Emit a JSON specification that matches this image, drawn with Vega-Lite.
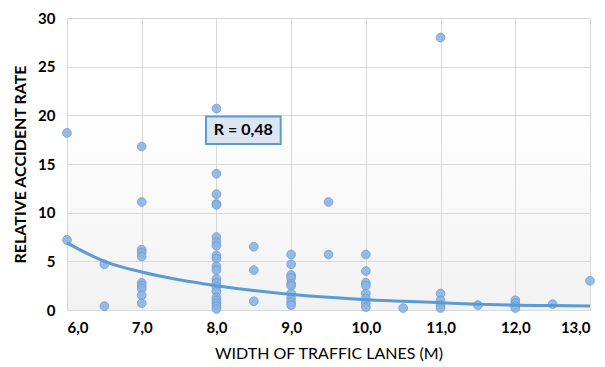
{
  "$schema": "https://vega.github.io/schema/vega-lite/v6.json",
  "width": 523,
  "height": 292,
  "autosize": "none",
  "padding": {"left": 67, "top": 18, "right": 15, "bottom": 57},
  "background": "#ffffff",
  "config": {
    "view": {
      "stroke": "#d9d9d9",
      "strokeWidth": 1,
      "fill": {"gradient": "linear", "x1": 0, "y1": 0, "x2": 0, "y2": 1,
        "stops": [{"offset": 0, "color": "#ffffff"}, {"offset": 0.3, "color": "#ffffff"}, {"offset": 1, "color": "#f2f2f2"}]}
    },
    "axis": {
      "labelFont": "Lato", "labelFontWeight": "bold", "labelFontSize": 15, "labelColor": "#000000",
      "titleFont": "Lato", "titleFontWeight": "normal", "titleFontSize": 16, "titleColor": "#000000",
      "gridColor": "#d9d9d9", "gridWidth": 1, "domain": false, "ticks": false
    }
  },
  "datasets": {
    "points": [
      {"w": 6, "r": 18.2}, {"w": 6, "r": 7.2},
      {"w": 6.5, "r": 4.7}, {"w": 6.5, "r": 0.4},
      {"w": 7, "r": 16.8}, {"w": 7, "r": 11.1}, {"w": 7, "r": 6.2}, {"w": 7, "r": 5.9}, {"w": 7, "r": 5.5}, {"w": 7, "r": 2.8}, {"w": 7, "r": 2.5}, {"w": 7, "r": 2.2}, {"w": 7, "r": 1.5}, {"w": 7, "r": 0.7},
      {"w": 8, "r": 20.7}, {"w": 8, "r": 14.0}, {"w": 8, "r": 11.9}, {"w": 8, "r": 10.9}, {"w": 8, "r": 10.8}, {"w": 8, "r": 7.5}, {"w": 8, "r": 7.0}, {"w": 8, "r": 6.6}, {"w": 8, "r": 5.6}, {"w": 8, "r": 5.3}, {"w": 8, "r": 4.5}, {"w": 8, "r": 4.1}, {"w": 8, "r": 3.2}, {"w": 8, "r": 2.8}, {"w": 8, "r": 2.4}, {"w": 8, "r": 1.9}, {"w": 8, "r": 1.3}, {"w": 8, "r": 1.0}, {"w": 8, "r": 0.7}, {"w": 8, "r": 0.4}, {"w": 8, "r": 0.1},
      {"w": 8.5, "r": 6.5}, {"w": 8.5, "r": 4.1}, {"w": 8.5, "r": 0.9},
      {"w": 9, "r": 5.7}, {"w": 9, "r": 4.7}, {"w": 9, "r": 3.6}, {"w": 9, "r": 3.3}, {"w": 9, "r": 2.7}, {"w": 9, "r": 2.5}, {"w": 9, "r": 1.7}, {"w": 9, "r": 1.2}, {"w": 9, "r": 0.8}, {"w": 9, "r": 0.5},
      {"w": 9.5, "r": 11.1}, {"w": 9.5, "r": 5.7},
      {"w": 10, "r": 5.7}, {"w": 10, "r": 4.0}, {"w": 10, "r": 2.8}, {"w": 10, "r": 2.5}, {"w": 10, "r": 1.7}, {"w": 10, "r": 1.2}, {"w": 10, "r": 0.7}, {"w": 10, "r": 0.3},
      {"w": 10.5, "r": 0.2},
      {"w": 11, "r": 28.0}, {"w": 11, "r": 1.7}, {"w": 11, "r": 1.0}, {"w": 11, "r": 0.5}, {"w": 11, "r": 0.2},
      {"w": 11.5, "r": 0.5},
      {"w": 12, "r": 1.0}, {"w": 12, "r": 0.7}, {"w": 12, "r": 0.4}, {"w": 12, "r": 0.2},
      {"w": 12.5, "r": 0.6},
      {"w": 13, "r": 3.0}
    ],
    "trend": [
      {"w": 6, "r": 6.9}, {"w": 6.5, "r": 5.0}, {"w": 7, "r": 3.9}, {"w": 7.5, "r": 3.1}, {"w": 8, "r": 2.5},
      {"w": 8.5, "r": 2.0}, {"w": 9, "r": 1.6}, {"w": 9.5, "r": 1.3}, {"w": 10, "r": 1.05}, {"w": 10.5, "r": 0.9},
      {"w": 11, "r": 0.75}, {"w": 11.5, "r": 0.6}, {"w": 12, "r": 0.5}, {"w": 12.5, "r": 0.45}, {"w": 13, "r": 0.4}
    ],
    "note": [{"label": "R = 0,48"}]
  },
  "layer": [
    {
      "data": {"name": "points"},
      "mark": {"type": "circle", "size": 75, "color": "#8db4e2", "opacity": 0.9, "stroke": "#6f9fd8", "strokeWidth": 1},
      "encoding": {
        "x": {"field": "w", "type": "quantitative",
          "scale": {"domain": [6, 13], "nice": false, "zero": false},
          "axis": {"values": [6, 7, 8, 9, 10, 11, 12, 13], "labelExpr": "replace(format(datum.value, '.1f'), '.', ',')", "labelPadding": 10, "title": "WIDTH OF TRAFFIC LANES (M)", "titlePadding": 10}},
        "y": {"field": "r", "type": "quantitative",
          "scale": {"domain": [0, 30], "nice": false},
          "axis": {"values": [0, 5, 10, 15, 20, 25, 30], "labelPadding": 12, "title": "RELATIVE ACCIDENT RATE", "titleFontWeight": "bold", "titlePadding": 9}}
      }
    },
    {
      "data": {"name": "trend"},
      "mark": {"type": "line", "color": "#5b9bd5", "strokeWidth": 3, "interpolate": "monotone"},
      "encoding": {
        "x": {"field": "w", "type": "quantitative"},
        "y": {"field": "r", "type": "quantitative"}
      }
    },
    {
      "data": {"name": "note"},
      "mark": {"type": "rect", "fill": "#dce6f2", "stroke": "#5b9bd5", "strokeWidth": 2},
      "encoding": {
        "x": {"datum": 7.86, "type": "quantitative"},
        "x2": {"datum": 8.86},
        "y": {"datum": 19.87, "type": "quantitative"},
        "y2": {"datum": 17.06}
      }
    },
    {
      "data": {"name": "note"},
      "mark": {"type": "text", "font": "Lato", "fontWeight": "bold", "fontSize": 16, "color": "#000000", "align": "center", "baseline": "middle"},
      "encoding": {
        "x": {"datum": 8.36, "type": "quantitative"},
        "y": {"datum": 18.45, "type": "quantitative"},
        "text": {"field": "label"}
      }
    }
  ]
}
